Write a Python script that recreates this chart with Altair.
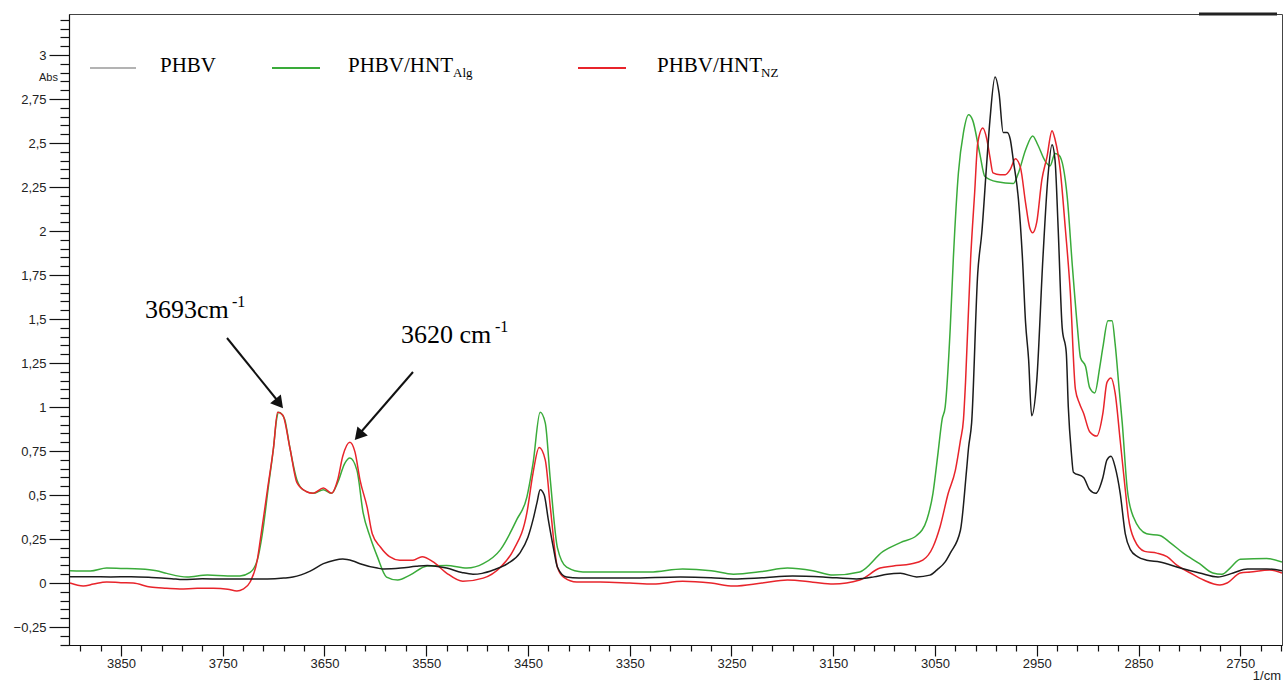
import altair as alt
import pandas as pd

# ---------------- data ----------------
phbv_wn = [3900, 3880, 3860, 3840, 3820, 3800, 3789, 3770, 3750, 3733, 3706, 3690, 3681, 3664, 3651, 3640,
           3632, 3622, 3615, 3598, 3592, 3575, 3560, 3549, 3530, 3515, 3504, 3495, 3484, 3470, 3458, 3450,
           3445, 3441, 3438, 3434, 3430, 3425, 3421, 3412, 3400, 3389, 3350, 3300, 3270, 3248, 3220, 3190,
           3160, 3127, 3110, 3097, 3084, 3068, 3055, 3048, 3040, 3035, 3025, 3019, 3017, 3014, 3008, 3004,
           2999, 2996, 2991, 2987, 2983, 2979, 2976, 2973, 2968, 2964, 2961, 2958, 2955, 2950, 2944, 2939,
           2935, 2932, 2929, 2925, 2921, 2919, 2916, 2914, 2904, 2898, 2892, 2885, 2881, 2877, 2873, 2868,
           2863, 2858, 2851, 2842, 2829, 2809, 2790, 2772, 2757, 2743, 2724, 2709]
phbv_abs = [0.036, 0.036, 0.035, 0.036, 0.032, 0.025, 0.02, 0.024, 0.023, 0.023, 0.023, 0.028, 0.034, 0.068, 0.11, 0.13,
            0.136, 0.125, 0.11, 0.085, 0.08, 0.085, 0.095, 0.10, 0.085, 0.06, 0.05, 0.055, 0.074, 0.11, 0.17, 0.26,
            0.36, 0.46, 0.53, 0.50, 0.36, 0.20, 0.09, 0.034, 0.028, 0.028, 0.028, 0.034, 0.03, 0.023, 0.03, 0.04,
            0.035, 0.023, 0.035, 0.05, 0.055, 0.035, 0.045, 0.075, 0.12, 0.17, 0.30, 0.64, 0.77, 0.91, 1.76, 1.99,
            2.40, 2.63, 2.875, 2.78, 2.56, 2.56, 2.52, 2.40, 2.18, 1.84, 1.48, 1.27, 0.95, 1.15, 1.84, 2.31,
            2.49, 2.40, 2.02, 1.45, 1.31, 1.0, 0.74, 0.63, 0.60, 0.53, 0.51, 0.60, 0.70, 0.72, 0.66, 0.51,
            0.28, 0.19, 0.15, 0.13, 0.12, 0.085, 0.057, 0.034, 0.057, 0.08, 0.08, 0.07]

alg_wn = [3900, 3880, 3864, 3850, 3831, 3815, 3805, 3785, 3765, 3745, 3733, 3723, 3716, 3711, 3705, 3700,
          3697, 3695, 3692, 3689, 3684, 3677, 3671, 3661, 3651, 3643, 3637, 3630, 3625, 3618, 3612, 3605,
          3598, 3589, 3578, 3566, 3549, 3530, 3510, 3494, 3477, 3461, 3451, 3445, 3438, 3433, 3428, 3421,
          3412, 3396, 3379, 3330, 3298, 3270, 3248, 3220, 3195, 3170, 3150, 3124, 3101, 3084, 3068, 3058,
          3052, 3047, 3043, 3040, 3035, 3032, 3027, 3022, 3017, 3013, 3006, 3001, 2989, 2973, 2968, 2961,
          2954, 2949, 2942, 2937, 2932, 2928, 2920, 2915, 2910, 2907, 2902, 2898, 2893, 2888, 2885, 2880,
          2876, 2873, 2869, 2866, 2861, 2855, 2842, 2829, 2819, 2806, 2790, 2777, 2768, 2760, 2750, 2724, 2709]
alg_abs = [0.07, 0.068, 0.085, 0.083, 0.08, 0.07, 0.055, 0.034, 0.045, 0.04, 0.04, 0.06, 0.13, 0.28, 0.55, 0.77,
           0.93, 0.97, 0.96, 0.93, 0.77, 0.585, 0.53, 0.51, 0.53, 0.51, 0.57, 0.68, 0.71, 0.64, 0.40, 0.26,
           0.15, 0.034, 0.017, 0.045, 0.097, 0.10, 0.085, 0.11, 0.19, 0.36, 0.49, 0.68, 0.97, 0.91, 0.585, 0.20,
           0.09, 0.063, 0.063, 0.063, 0.08, 0.07, 0.05, 0.065, 0.085, 0.07, 0.045, 0.063, 0.18, 0.23, 0.27, 0.36,
           0.51, 0.74, 0.93, 1.0, 1.45, 1.84, 2.33, 2.56, 2.66, 2.63, 2.44, 2.31, 2.28, 2.27, 2.33, 2.46,
           2.54, 2.49, 2.40, 2.37, 2.44, 2.43, 2.19, 1.80, 1.45, 1.28, 1.23, 1.11, 1.08, 1.23, 1.34, 1.49,
           1.49, 1.36, 1.10, 0.91, 0.53, 0.375, 0.28, 0.27, 0.23, 0.17, 0.11, 0.057, 0.05, 0.085, 0.135, 0.14, 0.12]

nz_wn = [3900, 3887, 3877, 3864, 3850, 3838, 3821, 3805, 3792, 3775, 3759, 3745, 3736, 3730, 3723, 3716,
         3713, 3706, 3700, 3696, 3691, 3684, 3677, 3668, 3661, 3651, 3643, 3637, 3632, 3625, 3620, 3615,
         3608, 3603, 3595, 3586, 3576, 3563, 3554, 3543, 3530, 3514, 3494, 3477, 3464, 3451, 3445, 3439,
         3433, 3428, 3421, 3415, 3402, 3379, 3350, 3327, 3298, 3270, 3248, 3220, 3195, 3170, 3150, 3124,
         3104, 3091, 3074, 3062, 3052, 3045, 3037, 3030, 3025, 3022, 3020, 3015, 3011, 3008, 3003, 2999,
         2996, 2993, 2986, 2981, 2976, 2971, 2966, 2961, 2957, 2954, 2950, 2945, 2940, 2935, 2932, 2927,
         2922, 2917, 2912, 2908, 2904, 2898, 2891, 2885, 2881, 2877, 2873, 2868, 2863, 2860, 2854, 2844,
         2832, 2822, 2812, 2799, 2786, 2770, 2763, 2750, 2740, 2721, 2709]
nz_abs = [0.0, -0.017, -0.006, 0.006, 0.002, 0.0, -0.023, -0.03, -0.034, -0.03, -0.03, -0.035, -0.045, -0.035, 0.006, 0.13,
          0.245, 0.53, 0.77, 0.97, 0.955, 0.77, 0.57, 0.52, 0.51, 0.54, 0.51, 0.585, 0.72, 0.80, 0.745, 0.585,
          0.43, 0.28, 0.205, 0.15, 0.13, 0.13, 0.15, 0.12, 0.057, 0.01, 0.028, 0.09, 0.19, 0.40, 0.625, 0.77,
          0.70, 0.43, 0.09, 0.034, 0.006, 0.006, 0.0, -0.006, 0.01, 0.0, -0.017, 0.0, 0.017, 0.005, -0.006, 0.017,
          0.085, 0.097, 0.108, 0.13, 0.205, 0.32, 0.51, 0.64, 0.81, 0.93, 1.14, 1.84, 2.22, 2.50, 2.585, 2.52,
          2.42, 2.33, 2.32, 2.32, 2.35, 2.41, 2.36, 2.16, 2.02, 1.99, 2.05, 2.29, 2.42, 2.57, 2.52, 2.35,
          2.02, 1.65, 1.10, 1.02, 0.965, 0.86, 0.835, 0.965, 1.14, 1.165, 1.08, 0.81, 0.53, 0.375, 0.245, 0.18,
          0.17, 0.15, 0.10, 0.057, 0.017, -0.011, 0.0, 0.057, 0.063, 0.074, 0.057]

series_names = ["PHBV", "PHBV/HNT_Alg", "PHBV/HNT_NZ"]
line_colors = ["#1c1c1c", "#3aab3a", "#e8242b"]

x_ticks = list(range(3890, 2700, -20))
y_ticks = [round(-0.35 + 0.05 * i, 2) for i in range(72)]

X_DOMAIN = [2709, 3901]
Y_DOMAIN = [-0.352, 3.233]

W, H = 1213, 631

# ---------------- encodings ----------------
x_enc = alt.X(
    "wn:Q",
    scale=alt.Scale(domain=X_DOMAIN, reverse=True, nice=False, zero=False),
    axis=alt.Axis(
        values=x_ticks, title=None, grid=False,
        labelExpr="datum.value % 100 == 50 ? format(datum.value, 'd') : ''",
        tickSize={"condition": {"test": "datum.value % 100 == 50", "value": 11}, "value": 6},
        domainColor="#111", tickColor="#111", domainWidth=1.2, tickWidth=1.2,
        labelFont="Liberation Sans", labelFontSize=13, labelColor="#222",
        labelPadding=1, labelOverlap=False,
    ),
)
y_enc = alt.Y(
    "abs:Q",
    scale=alt.Scale(domain=Y_DOMAIN, nice=False, zero=False),
    axis=alt.Axis(
        values=y_ticks, title=None, grid=False,
        labelExpr="abs(datum.value*4 - round(datum.value*4)) < 0.001 ? replace(format(datum.value, '.2~f'), '.', ',') : ''",
        tickSize={"condition": {"test": "abs(datum.value*4 - round(datum.value*4)) < 0.001", "value": 20}, "value": 9},
        domainColor="#111", tickColor="#111", domainWidth=1.2, tickWidth=1.2,
        labelFont="Liberation Sans", labelFontSize=13, labelColor="#222",
        labelPadding=3, labelOverlap=False,
    ),
)


def spectrum(wn, ab, color):
    df = pd.DataFrame({"wn": wn, "abs": ab})
    return alt.Chart(df).mark_line(
        color=color, strokeWidth=1.5, clip=True, interpolate="monotone"
    ).encode(x=x_enc, y=y_enc, order="idx:Q").transform_window(idx="row_number()")


one = pd.DataFrame({"_": [0]})


def txt(s, x, y, size, font="Liberation Serif", align="left", color="black"):
    return alt.Chart(one).mark_text(
        text=s, align=align, baseline="alphabetic", font=font, fontSize=size, color=color
    ).encode(x=alt.value(x), y=alt.value(y))


def seg(x1, y1, x2, y2, color, width):
    return alt.Chart(one).mark_rule(color=color, strokeWidth=width).encode(
        x=alt.value(x1), y=alt.value(y1), x2=alt.value(x2), y2=alt.value(y2)
    )


def head(x, y, angle):
    return alt.Chart(one).mark_point(
        shape="triangle", filled=True, size=190, color="#111", opacity=1, angle=angle
    ).encode(x=alt.value(x), y=alt.value(y))


layers = [
    spectrum(alg_wn, alg_abs, line_colors[1]),
    spectrum(nz_wn, nz_abs, line_colors[2]),
    spectrum(phbv_wn, phbv_abs, line_colors[0]),
    # legend
    seg(21, 54, 67, 54, "#9a9a9a", 1.6),
    txt("PHBV", 91, 58, 21),
    seg(203, 54, 251, 54, line_colors[1], 2),
    txt("PHBV/HNT", 279, 58, 21),
    txt("Alg", 384, 63, 13),
    seg(509, 54, 557, 54, line_colors[2], 2),
    txt("PHBV/HNT", 588, 58, 21),
    txt("NZ", 692, 63, 13),
    # annotations
    txt("3693cm", 76, 304, 26),
    txt("-1", 163, 293, 16),
    seg(158, 324, 208, 386, "#111", 2),
    head(209, 388, 141),
    txt("3620 cm", 332, 329, 26),
    txt("-1", 426, 318, 16),
    seg(344, 358, 292, 418, "#111", 2),
    head(291, 420, 221),
    # axis captions
    txt("Abs", -11, 67, 11, font="Liberation Sans", align="right", color="#222"),
    txt("1/cm", 1212, 666, 13, font="Liberation Sans", align="right", color="#222"),
    # thick segment on top frame
    seg(1130, 0, 1208, 0, "#222", 3),
]

chart = alt.layer(*layers).properties(
    width=W, height=H,
    autosize=alt.AutoSizeParams(type="none"),
    padding={"left": 69, "top": 14, "right": 4, "bottom": 37},
    background="white",
).configure_view(stroke="#444", strokeWidth=1)

chart.save("out.html", embed_options={"renderer": "svg", "actions": False})
